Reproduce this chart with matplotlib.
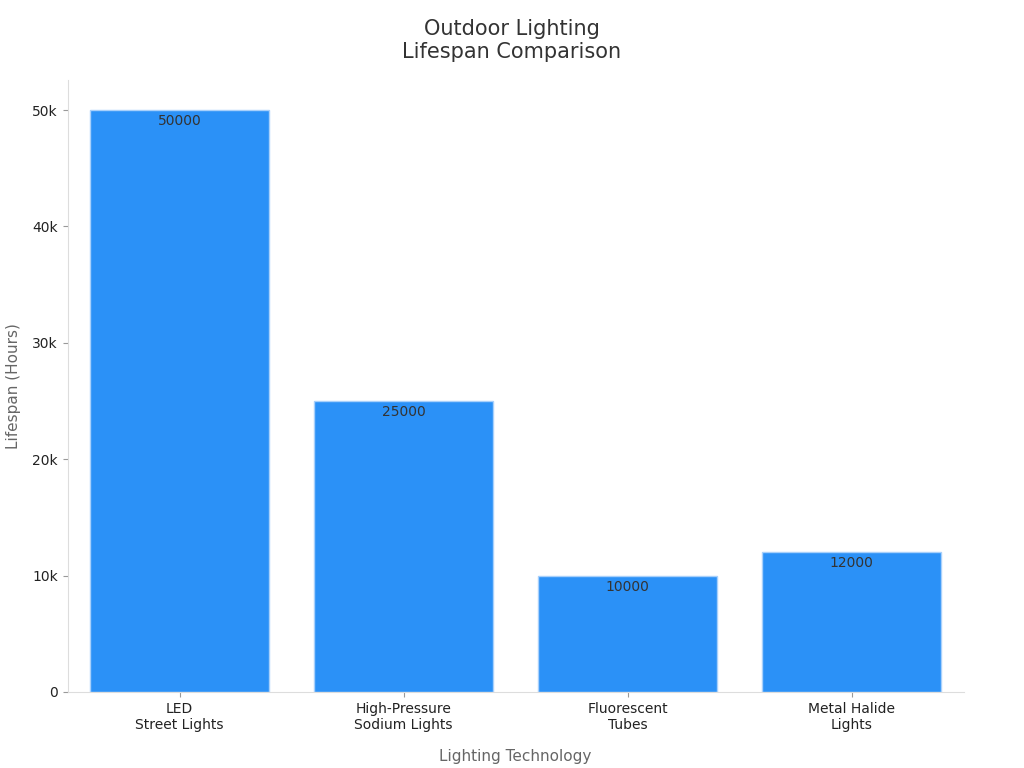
import matplotlib
matplotlib.use("Agg")
import matplotlib.pyplot as plt
from matplotlib.ticker import FuncFormatter

categories = ["LED\nStreet Lights", "High-Pressure\nSodium Lights", "Fluorescent\nTubes", "Metal Halide\nLights"]
values = [50000, 25000, 10000, 12000]

plt.rcParams['font.family'] = ['DejaVu Sans']
fig = plt.figure(figsize=(10.24, 7.68), dpi=100)
ax = fig.add_axes([0.066, 0.099, 0.875, 0.797])
bars = ax.bar(range(len(values)), values, width=0.8, color="#2b91f7", edgecolor="#a8d0fb", linewidth=1)
for i, v in enumerate(values):
    ax.text(i, v - 350, str(v), ha="center", va="top", fontsize=10, color="#333333")
ax.set_xticks(range(len(values)))
ax.set_xticklabels(categories, fontsize=10, color="#222222")
ax.set_xlim(-0.5, 3.5)
ax.set_ylim(0, 52600)
ax.set_yticks([0, 10000, 20000, 30000, 40000, 50000])
ax.yaxis.set_major_formatter(FuncFormatter(lambda x, p: "0" if x == 0 else f"{int(x/1000)}k"))
ax.tick_params(axis="y", labelsize=10, colors="#222222")
ax.tick_params(color="#999999")
for s in ["top", "right"]:
    ax.spines[s].set_visible(False)
for s in ["left", "bottom"]:
    ax.spines[s].set_color("#dddddd")
ax.set_xlabel("Lighting Technology", fontsize=11, color="#666666", labelpad=12)
ax.set_ylabel("Lifespan (Hours)", fontsize=11, color="#666666", labelpad=8)
fig.suptitle("Outdoor Lighting\nLifespan Comparison", fontsize=15, color="#333333", y=0.975)
fig.savefig("out.png")
